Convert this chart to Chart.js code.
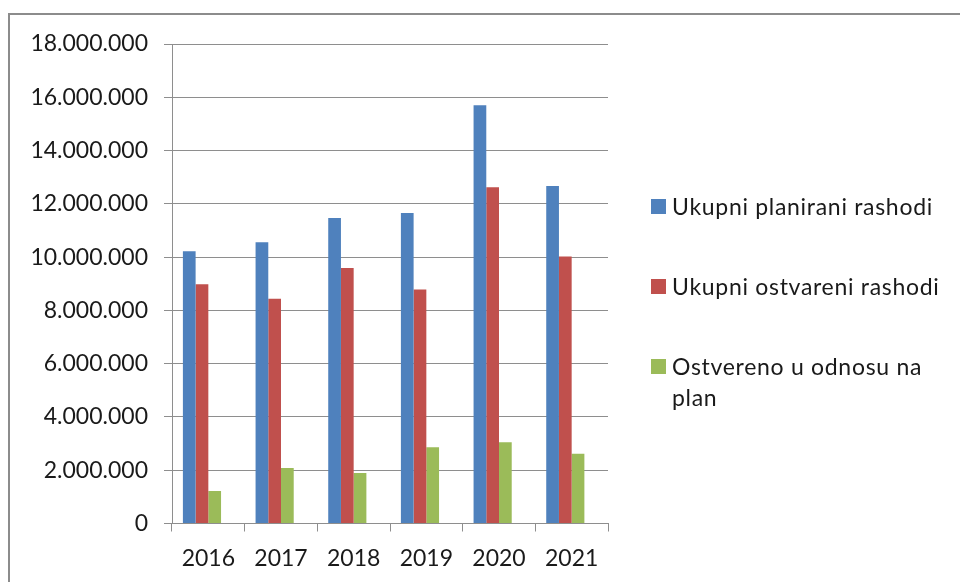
<!DOCTYPE html>
<html>
<head>
<meta charset="utf-8">
<script src="https://cdn.jsdelivr.net/npm/chart.js@4.4.0/dist/chart.umd.min.js"></script>
<style>
    body { margin: 0; background: #fff; font-family: Lato, sans-serif; }
    .wrap { position: relative; width: 960px; height: 582px; overflow: hidden; }
    .frame {
        position: absolute; left: 8px; top: 13px; width: 1000px; height: 700px;
        border-top: 2px solid #8c8c8c; border-left: 2px solid #8c8c8c;
    }
    canvas { position: absolute; left: 0; top: 0; }
    .legend { position: absolute; left: 651px; top: 0; font-size: 23px; color: #1a1a1a; letter-spacing: 0.7px; }
    .legend-item { position: absolute; left: 0; white-space: nowrap; line-height: 31px; }
    .legend-item .box { position: absolute; left: 0; top: 8px; width: 15px; height: 15px; }
    .legend-item .text { position: absolute; left: 21px; top: 0; }
</style>
</head>
<body>
<div class="wrap">
    <div class="frame"></div>
    <canvas id="expenseChart" width="960" height="582"></canvas>
    <div class="legend" id="legend"></div>
</div>
<script>
    // Chart data
    const years = ['2016', '2017', '2018', '2019', '2020', '2021'];
    const plannedExpenses = [10220000, 10560000, 11470000, 11660000, 15700000, 12670000];
    const realizedExpenses = [8980000, 8440000, 9590000, 8780000, 12620000, 10020000];
    const realizedVsPlan = [1220000, 2080000, 1900000, 2860000, 3050000, 2620000];
    // empty fourth slot in each cluster, as in the source chart
    const emptySeries = [null, null, null, null, null, null];

    const seriesLabels = ['Ukupni planirani rashodi', 'Ukupni ostvareni rashodi', 'Ostvereno u odnosu na\nplan'];
    const seriesColors = ['#4F81BD', '#C0504D', '#9BBB59'];
    const legendTops = [191, 271, 351];

    function formatNumber(v) {
        return String(v).replace(/\B(?=(\d{3})+(?!\d))/g, '.');
    }

    const gridColor = '#8e8e8e';
    const fontSpec = { family: 'Lato', size: 23 };

    const ctx = document.getElementById('expenseChart').getContext('2d');
    const expenseChart = new Chart(ctx, {
        type: 'bar',
        data: {
            labels: years,
            datasets: [
                { label: seriesLabels[0], data: plannedExpenses, backgroundColor: seriesColors[0] },
                { label: seriesLabels[1], data: realizedExpenses, backgroundColor: seriesColors[1] },
                { label: seriesLabels[2], data: realizedVsPlan, backgroundColor: seriesColors[2] },
                { label: '', data: emptySeries, backgroundColor: 'rgba(0,0,0,0)' }
            ]
        },
        options: {
            responsive: false,
            animation: false,
            layout: { padding: { top: 44, right: 352, left: 0, bottom: 0 } },
            datasets: {
                bar: { barPercentage: 1, categoryPercentage: 0.7, borderWidth: 0 }
            },
            plugins: {
                legend: { display: false },
                tooltip: { enabled: false }
            },
            scales: {
                x: {
                    grid: { drawOnChartArea: false, drawTicks: true, tickLength: 8, color: gridColor },
                    border: { color: gridColor, width: 1 },
                    ticks: { color: '#1a1a1a', font: fontSpec, padding: 13, maxRotation: 0 },
                    afterFit: function(scale) { scale.height = 58.5; }
                },
                y: {
                    min: 0,
                    max: 18000000,
                    grid: { color: gridColor, tickLength: 8, drawTicks: true },
                    border: { color: gridColor, width: 1 },
                    ticks: {
                        stepSize: 2000000,
                        color: '#1a1a1a',
                        font: fontSpec,
                        padding: 16,
                        callback: function(value) { return formatNumber(value); }
                    },
                    afterFit: function(scale) { scale.width = 172; }
                }
            }
        }
    });

    // HTML legend on the right
    const legend = document.getElementById('legend');
    seriesLabels.forEach((label, i) => {
        const item = document.createElement('div');
        item.className = 'legend-item';
        item.style.top = legendTops[i] + 'px';
        const box = document.createElement('span');
        box.className = 'box';
        box.style.background = seriesColors[i];
        const text = document.createElement('span');
        text.className = 'text';
        label.split('\n').forEach((line, j) => {
            if (j > 0) text.appendChild(document.createElement('br'));
            text.appendChild(document.createTextNode(line));
        });
        item.appendChild(box);
        item.appendChild(text);
        legend.appendChild(item);
    });
</script>
</body>
</html>
